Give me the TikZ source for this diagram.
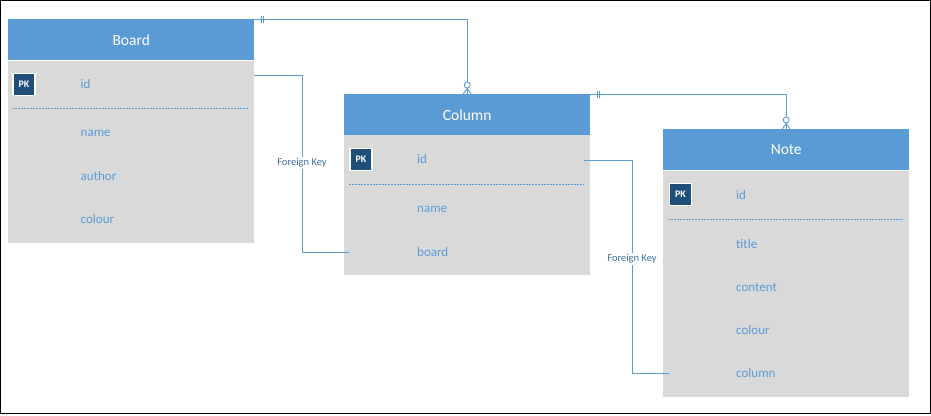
\documentclass[tikz,border=0pt]{standalone}
\usepackage{fontspec}
\setmainfont{Carlito}
\definecolor{hdr}{HTML}{5B9BD5}
\definecolor{bodyc}{HTML}{D9D9D9}
\definecolor{fieldc}{HTML}{5B9BD5}
\definecolor{pkc}{HTML}{1F4E79}
\definecolor{linec}{HTML}{5B9BD5}
\definecolor{fkc}{HTML}{41719C}
\begin{document}
\begin{tikzpicture}[x=1pt,y=-1pt,
  hdrbox/.style={fill=hdr,minimum width=246pt,minimum height=41pt,anchor=north west,inner sep=0pt,text=white,font=\fontsize{15.5}{18}\selectfont},
  bodybox/.style={fill=bodyc,minimum width=246pt,anchor=north west,inner sep=0pt},
  field/.style={anchor=west,text=fieldc,font=\fontsize{13}{15}\selectfont,inner sep=0pt},
  pkbox/.style={fill=pkc,draw=white,line width=1.2pt,minimum size=22pt,inner sep=0pt,text=white,font=\bfseries\fontsize{10}{12}\selectfont},
  sepline/.style={draw=hdr,line width=1pt,dash pattern=on 2pt off 1pt},
  conn/.style={draw=linec,line width=0.9pt},
  fklabel/.style={fill=white,text=fkc,font=\fontsize{10.5}{12}\selectfont,inner sep=1.2pt}]
\useasboundingbox (0,0) rectangle (931,415);
\draw[black,line width=1pt] (0.5,0.5) rectangle (930.5,413.5);

% Board
\node[hdrbox] (bh) at (8,19) {Board};
\node[bodybox,minimum height=182pt] (bb) at (8,61) {};
\node[pkbox] (bpk) at (24,84.5) {PK};
\node[field] (bid) at (80.5,84) {id};
\draw[sepline] (12,108.5) -- (248,108.5);
\node[field] (bname) at (80.5,133) {name};
\node[field] (bauthor) at (80.5,176) {author};
\node[field] (bcolour) at (80.5,219) {colour};

% Column
\node[hdrbox] (ch) at (344,94) {Column};
\node[bodybox,minimum height=140pt] (cb) at (344,135) {};
\node[pkbox] (cpk) at (361,159.5) {PK};
\node[field] (cid) at (417,159) {id};
\draw[sepline] (349,184.5) -- (584,184.5);
\node[field] (cname) at (417,209) {name};
\node[field] (cboard) at (417,252) {board};

% Note
\node[hdrbox] (nh) at (663,129) {Note};
\node[bodybox,minimum height=226pt] (nb) at (663,171) {};
\node[pkbox] (npk) at (680.5,194.5) {PK};
\node[field] (nid) at (736,195) {id};
\draw[sepline] (668,219.5) -- (903,219.5);
\node[field] (ntitle) at (736,244) {title};
\node[field] (ncontent) at (736,287) {content};
\node[field] (ncolour) at (736,330) {colour};
\node[field] (ncolumn) at (736,373) {column};

% Relationship Board -> Column
\draw[conn] (bh.north east) -- (bh.north east -| ch.north) -- (ch.north);
\draw[conn] ([xshift=7pt,yshift=3.5pt]bh.north east) -- ([xshift=7pt,yshift=-3.5pt]bh.north east);
\draw[conn] ([xshift=9.5pt,yshift=3.5pt]bh.north east) -- ([xshift=9.5pt,yshift=-3.5pt]bh.north east);
\draw[conn,fill=white] ([yshift=9pt]ch.north) circle (3pt);
\draw[conn] ([yshift=5.5pt]ch.north) -- ([xshift=-4pt]ch.north);
\draw[conn] ([yshift=5.5pt]ch.north) -- ([xshift=4pt]ch.north);
\draw[conn] ([yshift=5.5pt]ch.north) -- (ch.north);

% Relationship Column -> Note
\draw[conn] (ch.north east) -- (ch.north east -| nh.north) -- (nh.north);
\draw[conn] ([xshift=7pt,yshift=3.5pt]ch.north east) -- ([xshift=7pt,yshift=-3.5pt]ch.north east);
\draw[conn] ([xshift=9.5pt,yshift=3.5pt]ch.north east) -- ([xshift=9.5pt,yshift=-3.5pt]ch.north east);
\draw[conn,fill=white] ([yshift=9pt]nh.north) circle (3pt);
\draw[conn] ([yshift=5.5pt]nh.north) -- ([xshift=-4pt]nh.north);
\draw[conn] ([yshift=5.5pt]nh.north) -- ([xshift=4pt]nh.north);
\draw[conn] ([yshift=5.5pt]nh.north) -- (nh.north);

% Foreign key Board.id -> Column.board
\coordinate (fk1s) at (254,75);
\coordinate (fk1m) at (302,163);
\coordinate (fk1e) at (349,252);
\draw[conn] (fk1s) -- (fk1s -| fk1m) -- (fk1m |- fk1e) -- (fk1e);
\node[fklabel] (fk1l) at (fk1m) {Foreign Key};

% Foreign key Column.id -> Note.column
\coordinate (fk2s) at (584,160);
\coordinate (fk2m) at (632,259);
\coordinate (fk2e) at (669,373);
\draw[conn] (fk2s) -- (fk2s -| fk2m) -- (fk2m |- fk2e) -- (fk2e);
\node[fklabel] (fk2l) at (fk2m) {Foreign Key};
\end{tikzpicture}
\end{document}
